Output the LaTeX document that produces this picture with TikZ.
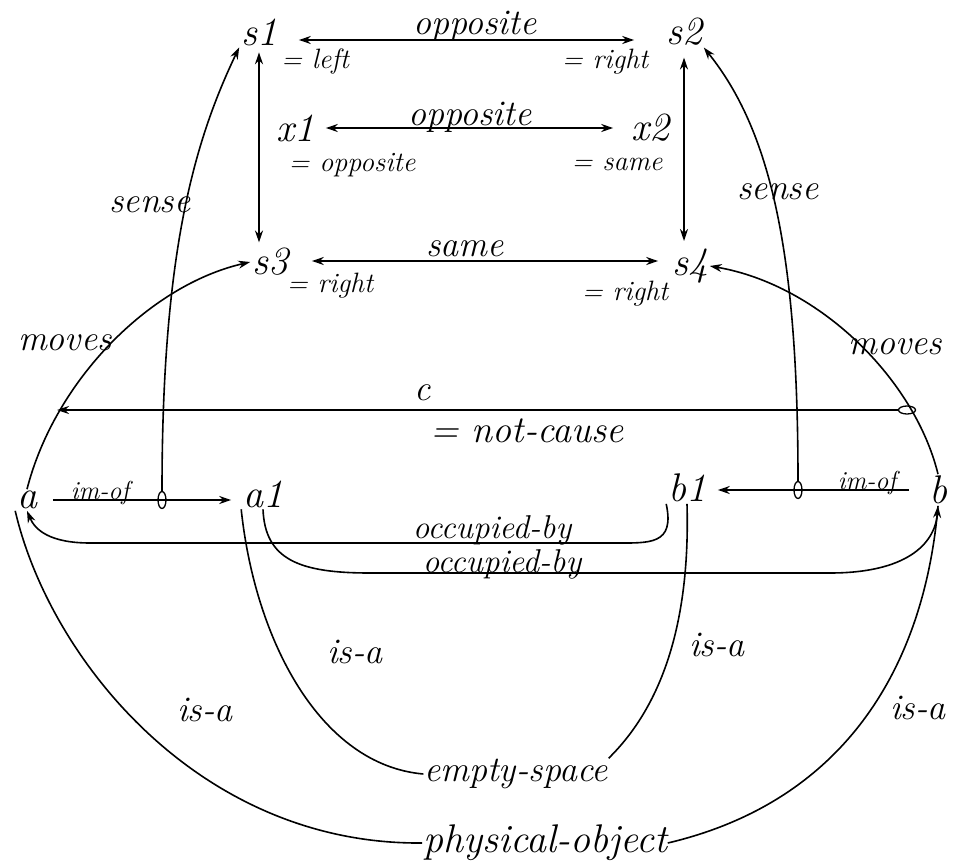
\documentclass[tikz,border=0pt]{standalone}
\usetikzlibrary{arrows.meta,shapes.geometric}
\begin{document}
\begin{tikzpicture}[x=1pt,y=-1pt,
  line width=1.6pt,
  >={Stealth[length=12pt,width=8pt]},
  nm/.style={font=\fontsize{40}{44}\selectfont\itshape, inner sep=1pt},
  lb/.style={font=\fontsize{36}{40}\selectfont\itshape, inner sep=0pt},
  ob/.style={font=\fontsize{33}{36}\selectfont\itshape, inner sep=0pt},
  big/.style={font=\fontsize{40}{44}\selectfont\itshape, inner sep=0pt},
  eq/.style={font=\fontsize{28}{32}\selectfont\itshape, inner sep=0pt},
  sm/.style={font=\fontsize{26}{30}\selectfont\itshape, inner sep=0pt},
  vo/.style={draw, ellipse, line width=1.3pt, minimum width=8pt, minimum height=17pt, inner sep=0pt},
  ho/.style={draw, ellipse, line width=1.3pt, minimum width=17pt, minimum height=8pt, inner sep=0pt}
]
\useasboundingbox[fill=white] (0,0) rectangle (964,867);

% nodes
\node[nm] (s1) at (259,32) {s1};
\node[nm] (s2) at (684,32) {s2};
\node[nm] (x1) at (295,128) {x1};
\node[nm] (x2) at (650,128) {x2};
\node[nm] (s3) at (270,262) {s3};
\node[nm] (s4) at (690,266) {s4};
\node[nm] (a) at (27,500) {a};
\node[nm] (a1) at (263,494) {a1};
\node[nm] (b1) at (687,488) {b1};
\node[nm] (b) at (938,490) {b};
\node[lb] (es) at (516,774) {empty-space};
\node[big] (po) at (545,843) {physical-object};

\node[vo] (cl) at (162,500) {};
\node[vo] (cr) at (798,490) {};
\node[ho] (cc) at (907,410) {};
\coordinate (ca) at (57,410);

% top relations
\draw[<->, shorten <=20pt, shorten >=30pt] ([yshift=-8pt]s1.east) -- ([yshift=-8pt]s1.east -| s2.west);
\node[lb] at (475,26) {opposite};
\node[eq] at (315,62) {= left};
\node[eq] at (605,62) {= right};

\draw[<->, shorten <=10pt, shorten >=16pt] (x1.east) -- (x2.west);
\node[lb] at (470,117) {opposite};
\node[eq] at (352,165) {= opposite};
\node[eq] at (617,164) {= same};

\draw[<->, shorten <=22pt, shorten >=12pt] ([yshift=1pt]s3.east) -- ([yshift=1pt]s3.east -| s4.west);
\node[lb] at (465,249) {same};
\node[eq] at (330,286) {= right};
\node[eq] at (625,294) {= right};

\draw[<->, shorten <=5pt, shorten >=4pt] (s1.south) -- (s1.south |- s3.north);
\draw[<->, shorten <=10pt, shorten >=6pt] (s2.south) -- (s2.south |- s4.north);

% sense
\draw[->] (cl) .. controls (162,250) and (195,140) .. (s1.south west);
\draw[->] (cr) .. controls (798,250) and (770,130) .. (s2.south east);
\node[lb] at (150,205) {sense};
\node[lb] at (778,192) {sense};

% moves
\draw[->] (a.north) .. controls (55,380) and (150,285) .. (s3.west);
\draw[->] (b.north) .. controls (915,380) and (820,285) .. (s4.east);
\node[lb] at (65,343) {moves};
\node[lb] at (895,347) {moves};

% c
\draw[->] (cc) -- (ca);
\node[lb] at (423,393) {c};
\node[font=\fontsize{38}{42}\selectfont\itshape, inner sep=0pt] at (527,431) {= not-cause};

% im-of
\draw[->, shorten <=14pt, shorten >=10pt] (a.east) -- (a.east -| a1.west);
\draw[->, shorten <=18pt, shorten >=10pt] (b.west) -- (b.west -| b1.east);
\node[sm] at (100,493) {im-of};
\node[sm] at (867,483) {im-of};

% occupied-by
\draw[->] (b1.south west) .. controls (675,545) and (650,543) .. (615,543) -- (90,543) .. controls (50,543) and (35,530) .. (a.south);
\draw[->] (a1.south) .. controls (265,560) and (300,573) .. (370,573) -- (830,573) .. controls (905,573) and (935,545) .. (b.south);
\node[ob] at (492,530) {occupied-by};
\node[ob] at (502,564) {occupied-by};

% is-a
\draw (a1.south west) .. controls (255,640) and (320,765) .. (es.west);
\draw (b1.south) .. controls (690,610) and (668,700) .. (es.north east);
\draw (a.south west) .. controls (50,660) and (200,845) .. (po.west);
\draw (b.south) .. controls (925,660) and (850,800) .. (po.east);
\node[lb] at (355,652) {is-a};
\node[lb] at (717,645) {is-a};
\node[lb] at (205,710) {is-a};
\node[lb] at (918,708) {is-a};
\end{tikzpicture}
\end{document}
